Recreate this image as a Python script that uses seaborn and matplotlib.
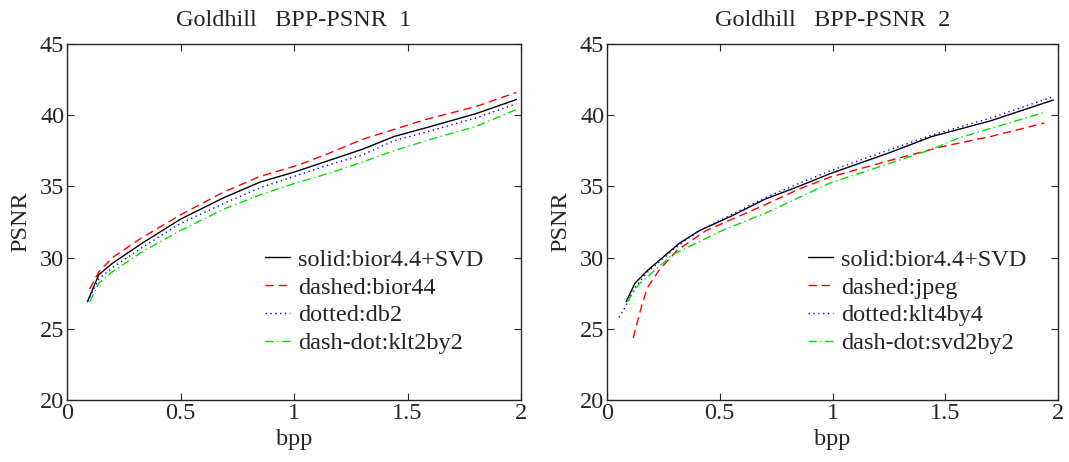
import numpy as np
import pandas as pd
import matplotlib
matplotlib.use("Agg")
import matplotlib.pyplot as plt
import matplotlib.font_manager as fm
import seaborn as sns

# ---------------- data ----------------
# Panel 1
p1_solid_x = [0.09, 0.14, 0.20, 0.33, 0.50, 0.69, 0.85, 1.00, 1.15, 1.30, 1.44, 1.60, 1.80, 1.98]
p1_solid_y = [26.9, 28.8, 29.6, 31.0, 32.7, 34.2, 35.3, 36.0, 36.8, 37.6, 38.5, 39.2, 40.1, 41.1]
p1_dash_x = [0.10, 0.14, 0.20, 0.33, 0.50, 0.69, 0.85, 1.02, 1.15, 1.30, 1.44, 1.58, 1.80, 1.98]
p1_dash_y = [27.8, 29.0, 30.0, 31.4, 33.0, 34.6, 35.7, 36.5, 37.3, 38.3, 39.0, 39.7, 40.6, 41.6]
p1_dot_x = [0.09, 0.14, 0.20, 0.33, 0.50, 0.69, 0.85, 1.00, 1.15, 1.30, 1.44, 1.60, 1.80, 1.98]
p1_dot_y = [26.9, 28.5, 29.3, 30.7, 32.4, 33.8, 34.9, 35.7, 36.5, 37.2, 38.2, 38.9, 39.8, 40.8]
p1_dd_x = [0.10, 0.14, 0.20, 0.33, 0.50, 0.69, 0.85, 1.00, 1.15, 1.30, 1.44, 1.60, 1.80, 1.98]
p1_dd_y = [26.9, 28.2, 29.0, 30.4, 31.9, 33.4, 34.4, 35.2, 35.9, 36.7, 37.5, 38.3, 39.2, 40.4]

# Panel 2
p2_solid_x = [0.085, 0.124, 0.18, 0.32, 0.41, 0.55, 0.70, 0.85, 0.99, 1.25, 1.44, 1.70, 1.98]
p2_solid_y = [26.9, 28.2, 29.1, 31.0, 31.9, 32.9, 34.1, 35.0, 35.9, 37.35, 38.5, 39.6, 41.07]
p2_dash_x = [0.116, 0.155, 0.18, 0.23, 0.31, 0.44, 0.70, 0.85, 0.99, 1.25, 1.48, 1.70, 1.94]
p2_dash_y = [24.35, 26.7, 27.9, 29.1, 30.5, 31.9, 33.7, 34.8, 35.66, 36.8, 37.77, 38.5, 39.45]
p2_dot_x = [0.053, 0.08, 0.124, 0.18, 0.32, 0.41, 0.55, 0.70, 0.85, 0.99, 1.25, 1.44, 1.70, 1.98]
p2_dot_y = [25.8, 26.5, 27.9, 29.0, 30.9, 31.9, 33.0, 34.2, 35.2, 36.1, 37.55, 38.6, 39.8, 41.3]
p2_dd_x = [0.089, 0.14, 0.29, 0.51, 0.70, 0.99, 1.25, 1.44, 1.56, 1.75, 1.94]
p2_dd_y = [26.9, 28.1, 30.2, 31.9, 33.1, 35.24, 36.6, 37.6, 38.4, 39.3, 40.2]

titles = ["Goldhill   BPP-PSNR  1", "Goldhill   BPP-PSNR  2"]
labels1 = ["solid:bior4.4+SVD", "dashed:bior44", "dotted:db2", "dash-dot:klt2by2"]
labels2 = ["solid:bior4.4+SVD", "dashed:jpeg", "dotted:klt4by4", "dash-dot:svd2by2"]
xticks = [0, 0.5, 1, 1.5, 2]
xticklabels = ["0", "0.5", "1", "1.5", "2"]
yticks = [20, 25, 30, 35, 40, 45]

# ---------------- style ----------------
sns.set_style("ticks")
available = {f.name for f in fm.fontManager.ttflist}
serif_choice = "STIXGeneral"
for cand in ["Liberation Serif", "Tinos", "Times New Roman", "Nimbus Roman", "TeX Gyre Termes", "STIXGeneral"]:
    if cand in available:
        serif_choice = cand
        break
plt.rcParams["font.family"] = [serif_choice, "STIXGeneral", "DejaVu Serif"]

colors = ["black", "red", "blue", "#00e000"]
dashes = [(None, None), (6.0, 3.5), (1.0, 2.5), (6.0, 2.5, 1.0, 2.5)]

fig = plt.figure(figsize=(10.69, 4.62), dpi=100)
ax1 = fig.add_axes([67 / 1069, 1 - 400 / 462, (521 - 67) / 1069, (400 - 44) / 462])
ax2 = fig.add_axes([607 / 1069, 1 - 400 / 462, (1058 - 607) / 1069, (400 - 44) / 462])

panels = [
    (ax1, [(p1_solid_x, p1_solid_y), (p1_dash_x, p1_dash_y), (p1_dot_x, p1_dot_y), (p1_dd_x, p1_dd_y)], labels1, titles[0], 0.436),
    (ax2, [(p2_solid_x, p2_solid_y), (p2_dash_x, p2_dash_y), (p2_dot_x, p2_dot_y), (p2_dd_x, p2_dd_y)], labels2, titles[1], 0.445),
]

for ax, series, labels, title, legx in panels:
    for (xs, ys), lab, col, dsh in zip(series, labels, colors, dashes):
        df = pd.DataFrame({"bpp": xs, "PSNR": ys})
        kw = dict(color=col, linewidth=1.0, label=lab)
        if dsh[0] is None:
            kw["linestyle"] = "-"
        else:
            kw["dashes"] = dsh
        sns.lineplot(data=df, x="bpp", y="PSNR", ax=ax, sort=False, **kw)
    ax.set_xlim(0, 2)
    ax.set_ylim(20, 45)
    ax.set_xticks(xticks)
    ax.set_xticklabels(xticklabels)
    ax.set_yticks(yticks)
    ax.tick_params(direction="in", top=True, right=True, length=5, width=0.8,
                   labelsize=17.5, pad=2)
    for s in ax.spines.values():
        s.set_linewidth(1.0)
        s.set_visible(True)
    ax.set_xlabel("bpp", fontsize=17.5, labelpad=4)
    ax.set_ylabel("PSNR", fontsize=17.5, labelpad=6)
    ax.set_title(title, fontsize=17.5, pad=13)
    leg = ax.legend(loc="upper left", bbox_to_anchor=(legx, 0.425), frameon=False,
                    fontsize=17.5, handlelength=1.05, handletextpad=0.33,
                    labelspacing=0.24, borderpad=0, borderaxespad=0)

fig.savefig("out.png", dpi=100)
